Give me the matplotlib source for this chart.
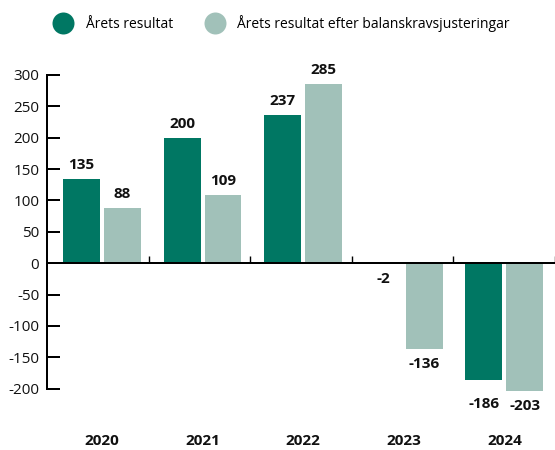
import numpy as np
import matplotlib.pyplot as plt
from matplotlib.lines import Line2D

plt.rcParams['font.family'] = ['Open Sans', 'DejaVu Sans']

years = ['2020', '2021', '2022', '2023', '2024']
arets_resultat = [135, 200, 237, -2, -186]
efter_balanskrav = [88, 109, 285, -136, -203]
yticks = [-200, -150, -100, -50, 0, 50, 100, 150, 200, 250, 300]
series_names = ['Årets resultat', 'Årets resultat efter balanskravsjusteringar']

dark = '#007763'
light = '#a1c1b9'
PT = 0.72  # points per pixel at dpi 100

fig = plt.figure(figsize=(5.55, 4.5), dpi=100)
ax = fig.add_axes([47.3 / 555, 1 - 388.7 / 450, (555 - 47.3) / 555, (388.7 - 75) / 450])

# group centres sit a touch tighter than the divider ticks
x = np.arange(len(years)) * 0.991 + 0.038
w = 0.364
off = 0.2015
ax.bar(x - off, arets_resultat, w, color=dark, clip_on=False, zorder=2)
ax.bar(x + off, efter_balanskrav, w, color=light, clip_on=False, zorder=2)

ax.set_xlim(-0.5, 4.5)
ax.set_ylim(-200, 300)

for s in ['top', 'right', 'bottom']:
    ax.spines[s].set_visible(False)
ax.spines['left'].set_linewidth(2 * PT)
ax.spines['left'].set_bounds(-200, 300)

ax.axhline(0, color='black', lw=2 * PT, zorder=3)
ax.vlines(np.arange(0.5, 5), 0, 11, color='black', lw=1.4 * PT, zorder=3, clip_on=False)

ax.set_yticks(yticks)
ax.set_yticklabels([str(t) for t in yticks])
ax.tick_params(axis='y', direction='in', length=13 * PT, width=2 * PT,
               pad=8 * PT, labelsize=11, labelcolor='#111111')

ax.set_xticks(x)
ax.set_xticklabels(years, fontweight='bold')
ax.tick_params(axis='x', length=0, pad=45 * PT, labelsize=11, labelcolor='#111111')

# value labels
for xs, vals in [(x - off, arets_resultat), (x + off, efter_balanskrav)]:
    for xi, v in zip(xs, vals):
        if v >= 0:
            ax.annotate(str(v), (xi, v), xytext=(0, 10 * PT), textcoords='offset points',
                        ha='center', va='baseline', fontweight='bold', fontsize=11,
                        color='#111111', annotation_clip=False)
        else:
            anchor = min(v, -200) if v < -150 else v
            ax.annotate(str(v), (xi, anchor), xytext=(0, -8 * PT), textcoords='offset points',
                        ha='center', va='top', fontweight='bold', fontsize=11,
                        color='#111111', annotation_clip=False)

handles = [Line2D([], [], marker='o', ls='none', markersize=22 * PT, markeredgewidth=0, color=c)
           for c in (dark, light)]
fig.legend(handles, series_names, loc='center left', bbox_to_anchor=(52.3 / 555, 1 - 23.3 / 450),
           ncol=2, frameon=False, fontsize=10, borderpad=0, borderaxespad=0,
           handlelength=1.6, handletextpad=0.82, columnspacing=2.2)

fig.savefig('out.png', dpi=100)
